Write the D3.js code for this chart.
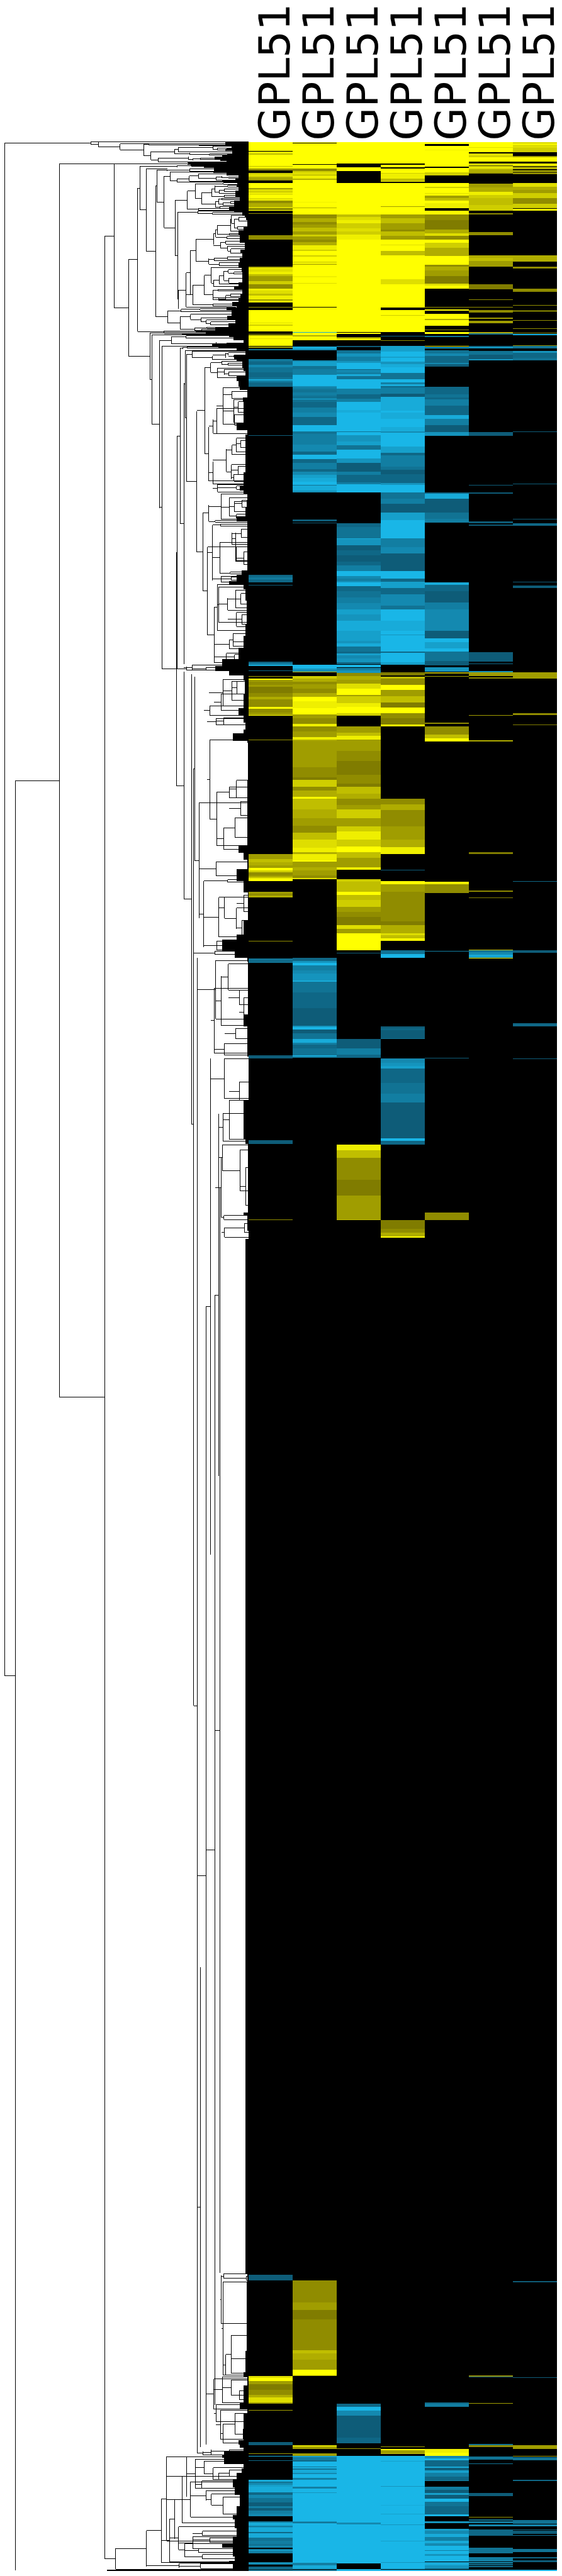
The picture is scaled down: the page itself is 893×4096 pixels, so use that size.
<!DOCTYPE html>
<html><head><meta charset="utf-8">
<script src="https://cdn.jsdelivr.net/npm/d3@7/dist/d3.min.js"></script>
<style>html,body{margin:0;padding:0;background:#fff}svg{display:block}</style></head>
<body><div id="chart"></div>
<script>
// ---------- data ----------
const columnLabels = ["GPL51","GPL51","GPL51","GPL51","GPL51","GPL51","GPL51"];
const TOTAL_ROWS = 11922, MAX_HEIGHT = 1221;
// reading sections: [row offset, row factor]
const S7=[0,1],S8=[1200,1],S9=[2400,1],S10=[3600,1],S4=[4704,1],S5=[10254,1.079],S11=[11304,1];
// each section: flat pairs of (row, level); level runs until the next row. +yellow, -blue, 0 none
const col1 = [
[S7,[0,9,45,0,48,6,52,8,56,5,62,9,118,5,121,9,132,2,136,3,139,0,153,6,160,7,170,4,180,3,189,0,203,9,228,3,234,7,245,4,249,9,255,5,258,9,276,7,282,8,288,2,300,4,318,6,330,0,333,8,339,0,350,2,354,0,459,2,480,0,612,4,618,8,625,7,637,8,650,5,660,3,684,6,700,2,720,8,730,7,745,5,755,8,773,3,780,8,789,0,810,3,813,0,825,9,887,7,890,9,896,6,902,9,930,0,942,4,945,0,948,9,963,7,968,9,1002,0,1005,4,1008,3,1012,0,1017,-3,1023,0,1065,-4,1071,-3,1080,-2,1095,-5,1105,-3,1130,-2,1155,-3,1165,-8,1172,-4,1182,-2,1200,0]],
[S8,[0,-2,3,0,240,-1,243,0,924,-2,935,-3,945,-5,948,-2,963,0,975,-1,978,0,1200,0]],
[S9,[150,-1,158,-4,165,-8,171,0,195,-2,198,0,222,3,225,0,233,9,240,3,250,2,265,3,275,1,305,2,325,4,335,2,372,9,382,2,400,3,412,9,417,0,534,2,537,0,1095,3,1120,5,1135,4,1150,3,1163,9,1175,6,1185,2,1200,0]],
[S10,[0,3,5,5,12,8,18,9,27,0,81,3,90,2,100,4,108,0,321,2,324,0,408,-3,416,-2,424,-3,429,0,882,-1,897,0]],
[S4,[195,-1,215,0,585,2,588,0]],
[S5,[197,-1,225,0,659,7,667,9,682,3,695,1,720,2,745,4,755,7,778,3,783,0,812,3,816,0,959,-1,973,0]],
[S11,[39,3,42,0,54,-9,57,0,75,-2,78,0,171,-8,180,-3,186,-5,196,-7,205,-8,230,-2,245,-5,260,-3,280,-1,300,-4,310,-1,320,-4,335,-5,348,0,372,-3,380,-8,395,-4,400,-6,405,-8,425,-2,432,-8,455,-3,470,-4,485,-3,495,-5,504,0,510,-4,515,-8,520,-4,530,0,573,-4,578,-6,582,-3,585,0,597,-2,607,-3,612,0,615,-9,618,0]]
];
const col2 = [
[S7,[0,9,6,0,9,9,111,0,114,9,132,2,144,6,150,7,162,4,165,8,182,4,186,9,295,8,299,9,324,4,327,9,357,2,375,4,395,2,405,3,420,5,440,3,455,6,465,3,480,2,492,4,507,8,528,6,537,9,558,6,564,9,588,6,592,8,600,3,604,9,660,8,666,9,693,7,696,9,810,0,813,9,933,-8,936,9,948,4,954,9,975,0,1005,-8,1017,-5,1023,0,1071,-5,1080,-7,1100,-3,1115,-4,1145,-9,1200,0]],
[S8,[0,-5,5,-4,15,-3,30,-4,45,-3,60,-8,65,-3,75,-2,105,-4,130,-5,150,-2,190,-9,222,-3,235,-4,285,-5,320,-2,335,-9,357,-2,375,-4,405,-2,420,-5,435,-7,450,-8,468,-9,483,-3,486,-8,510,-6,522,0,654,-1,663,0,669,-1,672,0]],
[S9,[165,-9,186,-6,195,-5,201,5,204,0,222,6,235,4,250,2,262,3,285,2,305,4,323,9,345,8,380,9,410,3,430,2,455,8,468,2,495,3,520,8,533,4,540,3,670,2,720,1,730,6,765,2,785,4,815,9,825,5,875,4,920,3,955,2,990,5,1025,7,1065,8,1085,4,1095,8,1125,9,1133,3,1160,4,1175,3,1200,0]],
[S10,[0,2,12,7,18,0,405,-2,420,-6,428,-9,441,-4,465,-5,483,-6,515,-8,522,-3,575,-2,650,-1,738,-6,744,-9,755,-1,775,-3,804,-8,820,-4,830,-2,850,-3,882,-8,888,-3,894,0]],
[S5,[225,2,325,3,358,1,400,2,540,5,555,4,585,3,630,9,655,3,658,0]],
[S11,[0,5,3,9,6,3,20,0,39,3,54,-7,60,-4,75,-2,80,-9,105,-3,108,-9,114,-3,120,-8,135,-5,141,-9,160,-4,170,-9,204,-4,212,-9,232,-6,235,-9,372,-5,380,-1,384,-9,576,-4,590,-8,608,0,612,-3,618,0]]
];
const col3 = [
[S7,[0,9,105,0,126,9,144,0,201,9,357,5,370,7,385,8,400,6,425,7,440,6,455,8,480,9,933,0,936,9,942,0,957,3,963,8,975,0,1002,-1,1008,0,1023,-3,1040,-6,1055,-4,1075,-6,1085,-9,1115,-2,1118,-5,1130,-4,1140,-8,1150,-3,1165,-9,1200,0]],
[S8,[0,-9,10,-4,40,-2,60,-4,75,-9,115,-8,130,-9,222,-3,225,-9,240,-6,270,-7,290,-3,310,-9,355,-6,375,-1,420,-4,435,-2,470,-4,480,-9,522,0,672,-2,690,-3,745,-8,750,-6,780,-1,805,-2,830,-1,860,-2,880,-4,905,-9,930,-5,945,-4,957,-6,963,-9,980,-2,1005,-3,1035,-4,1065,-5,1095,-7,1120,-6,1150,-8,1200,0]],
[S9,[0,-7,50,-6,60,-8,78,-3,100,-2,110,-7,120,-5,135,-6,155,-2,162,0,165,-9,180,0,183,-4,195,-6,207,2,222,4,240,3,260,7,285,9,315,3,322,6,355,8,372,9,405,6,417,0,468,3,500,5,515,8,535,3,590,2,640,1,705,2,750,1,765,5,800,4,825,2,855,3,875,6,920,3,960,6,985,8,1025,6,1058,9,1085,5,1115,3,1160,8,1172,0]],
[S10,[18,6,30,5,80,9,95,5,120,6,155,3,178,2,205,1,243,7,262,3,285,9,369,0,381,-1,384,0,804,-1,850,-4,880,-2,894,0]],
[S4,[216,8,245,5,282,2,390,1,468,3,585,5,588,0]],
[S5,[785,-2,800,-9,815,-5,840,-1,940,-2,965,0]],
[S11,[15,3,18,0,54,-9,381,-5,390,-9,579,0,609,-9,618,0]]
];
const col4 = [
[S7,[0,9,3,0,6,9,105,0,114,9,126,0,132,9,153,6,156,8,180,5,192,8,195,0,201,9,315,3,318,9,357,3,375,5,400,3,430,2,440,5,460,3,480,9,505,7,508,9,537,5,558,9,675,7,700,9,813,0,825,9,850,6,853,9,933,0,951,-2,954,0,975,2,978,0,1002,-7,1030,-9,1055,-7,1060,-9,1080,-6,1090,-8,1105,-9,1135,-3,1165,-9,1180,-4,1190,-8,1200,0]],
[S8,[0,-2,5,-4,35,-1,50,-8,120,-9,130,-8,160,-9,200,-8,220,-5,228,-9,295,-7,325,-2,340,-4,395,-3,410,-1,430,-2,475,-6,483,-9,522,-3,550,-4,575,-1,620,-7,655,-2,657,-9,745,-4,790,-5,820,-1,905,-9,945,-2,960,-7,990,-2,1020,-5,1075,-3,1095,-9,1150,-8,1200,0]],
[S9,[0,-9,18,-6,22,-9,100,-2,108,-9,155,-7,165,0,204,1,220,0,225,5,235,2,265,9,290,3,320,5,350,1,375,9,405,2,430,1,460,9,468,0,825,2,850,4,880,2,960,3,1025,4,1060,8,1095,0,1173,-1,1176,0]],
[S10,[27,9,45,3,80,2,225,1,245,4,285,7,295,5,310,9,321,0,369,-3,385,-9,405,0,741,-1,750,-2,760,-1,800,-3,804,0,897,-5,920,-6,935,-7,948,-2,1020,-3,1070,-4,1115,-1,1200,0]],
[S4,[96,-1,185,-9,200,-2,218,0,588,1,630,2,648,4,668,9,675,0]],
[S11,[6,3,9,0,18,9,24,3,39,5,42,0,54,-9,78,-7,81,-9,200,-6,204,-9,294,-8,297,-9,336,-7,339,-9,390,-6,393,-9,468,-7,471,-9,573,-6,576,-9,609,0,612,-9,618,0]]
];
const col5 = [
[S7,[0,9,12,0,21,9,38,8,42,9,105,0,108,9,122,0,129,9,150,6,165,0,201,9,222,6,228,9,252,7,256,9,265,3,275,5,288,9,300,8,327,0,339,9,357,2,385,1,430,4,450,7,462,2,480,9,495,6,520,4,560,9,604,2,612,4,630,3,660,1,695,7,705,9,720,0,810,2,813,0,822,9,828,0,843,9,870,4,876,9,903,0,921,2,924,0,933,9,942,0,951,-3,957,0,1002,9,1005,0,1008,-8,1014,0,1023,-3,1040,-5,1050,-2,1085,-5,1090,-1,1104,0]],
[S8,[3,-2,40,-3,55,-2,65,-4,95,-2,140,-8,160,-4,190,-1,225,-6,243,0,522,-2,528,-8,550,-1,620,-3,650,-4,670,0,963,-8,975,-2,1005,-1,1060,-4,1095,-5,1200,0]],
[S9,[0,-1,36,-9,55,-7,85,-9,100,-3,148,-1,170,0,180,-6,200,0,204,4,210,0,222,3,225,0,450,2,458,0,468,2,510,5,528,9,543,0]],
[S10,[30,8,45,2,87,0,372,-4,375,0,894,-1,897,0]],
[S4,[552,2,588,0]],
[S5,[778,-2,783,-4,800,0]],
[S11,[18,8,36,9,54,-5,65,-9,75,-2,105,-8,110,-1,125,-7,135,-4,155,-2,172,-4,176,0,204,-4,220,-1,235,-7,245,-1,262,-9,278,-3,300,-2,340,-9,348,0,372,-6,384,0,411,-7,420,-5,435,-8,450,-4,470,-8,480,-5,495,-9,515,-4,518,-9,535,-6,543,-9,570,0,573,-8,590,-6,605,-3,609,0,612,-9,618,0]]
];
const col6 = [
[S7,[0,9,25,7,30,9,52,0,56,7,70,6,75,9,96,0,108,8,112,3,122,9,126,7,135,4,150,3,156,0,204,3,225,4,245,8,262,6,275,5,310,6,339,0,350,2,357,0,444,2,459,0,558,4,570,5,585,3,612,0,699,1,723,0,774,2,777,0,810,2,813,0,825,2,837,0,864,3,870,0,879,3,891,0,933,4,939,-3,945,0,1002,-2,1008,-8,1011,-5,1014,0,1026,-3,1045,-1,1065,-6,1071,0]],
[S8,[225,-1,243,0,483,-1,486,0,522,-1,528,0,663,-1,672,0,678,-1,684,0]],
[S9,[105,-1,150,0,159,-2,162,0,198,-6,204,3,222,0,228,2,234,0,414,3,417,0,537,4,543,0,1086,1,1095,0]],
[S10,[75,2,81,0,108,1,111,0,366,5,369,-3,378,-5,390,-8,400,-2,405,9,408,0]],
[S5,[656,2,660,-2,664,0,782,3,785,0,967,-3,975,0]],
[S11,[0,2,9,0,57,-3,72,0,90,-3,93,0,234,-1,249,0,351,2,354,0,363,-3,369,0,375,-4,384,0,390,-5,399,0,414,-2,444,0,504,-3,531,0,549,-4,570,0,573,-6,580,0,582,-3,588,0,594,-3,600,0,612,-9,618,0]]
];
const col7 = [
[S7,[0,8,6,5,9,9,13,0,15,7,30,6,50,0,69,3,75,9,96,0,108,9,120,0,123,3,130,7,135,0,140,6,146,0,150,2,159,0,201,7,220,4,235,3,250,6,275,2,305,6,325,0,328,9,339,0,558,4,588,0,612,2,621,0,720,2,735,0,801,2,804,0,828,9,831,0,876,2,879,0,915,2,918,0,936,2,939,0,942,-9,948,0,999,2,1002,-3,1014,0,1026,-6,1035,-2,1060,-3,1071,0]],
[S8,[222,-1,225,0,477,-1,480,0,651,-1,654,0,672,-2,684,0,960,-1,963,0,978,-1,990,0]],
[S9,[204,3,234,0,405,2,414,0,459,1,462,0]],
[S10,[27,-2,30,0,369,-1,381,0,726,-2,741,0,897,-1,900,0]],
[S5,[226,-1,232,0,664,-1,668,0]],
[S11,[0,3,18,0,51,3,54,0,60,-3,75,0,171,-2,177,0,366,-3,387,0,390,-5,399,0,414,-2,417,0,420,-1,435,0,441,-3,444,0,510,-3,525,0,549,-2,555,0,564,-1,573,0,612,-9,618,0]]
];
const columns = [col1,col2,col3,col4,col5,col6,col7];

// tree readings. Merge = [node height, top row, bottom row, parent height, optional joining row]
const mainMerges = [
[1199,7,7527,1199],[776,1,13,1199],[1146,3135,11919,1199],[930,108,6162,1146],[674,106,110,930],
[708,462,11862,930],[662,111,813,708],[654,11811,11913,708],[590,580,1051,662],[545,226,931,590],
[485,937,1165,590],[416,934,940,485],[475,946,1386,485],[326,944,948,475],[437,975,1797,475],
[380,958,991,437],[425,1002,2587,437],[180,1003,1003,425],[356,2013,3159,425],[352,1443,2585,356],
[319,2601,3717,356],[335,1011,1875,352],[319,1185,2562,335],[313,1024,1353,319],[306,1041,1666,313],
[256,1322,2013,306],[217,1107,1531,256],[197,1400,1664,217],[175,1362,1431,197],[226,1823,2203,256],
[280,2612,4822,319],[271,3076,7675,280,4822],[266,2625,3527,271],[245,3243,3811,266]
];
const fineMerges = [ // finer reading, rows offset 96, heights counted from the left edge
[484,97,121,445],[589,106,136,484],[706,107,166,589],[730,105,111,706],[740,145,184,706],[856,133,155,740],[874,124,145,856],[1045,118,132,874],[1066,128,136,1045],[931,150,160,856],[1027,156,162,931],[778,175,196,740],[925,170,184,778],[946,178,188,925],[982,175,182,946],[922,194,198,778],[976,110,114,730],
[922,203,208,547],[688,216,430,676],[868,213,220,688],[938,210,216,868],[718,226,634,688],[820,226,229,718],[763,313,955,718],[769,235,391,763],[820,233,238,769],[930,230,240,820],[805,265,517,769],[835,245,286,805],[1048,243,247,835],[868,277,295,835],[928,265,290,868],[973,254,274,928],[1060,268,283,973],[1088,264,272,1060],[1120,270,275,1088],[1155,290,290,928],[1090,295,295,868],
[859,382,655,805],[919,337,427,859],[958,301,373,919],[1096,298,305,958],[989,343,403,958],[1039,325,365,989],[1054,310,343,1039],[1117,310,318,1054],[1075,333,350,1054],[1100,328,340,1075],[1102,358,368,1039],[1057,388,418,989],[1072,376,403,1057],[1087,373,380,1072],[1094,395,408,1072],[1130,390,398,1094],[1078,415,422,1057],[973,424,431,919],
[871,441,869,859],[970,437,446,871],[1042,443,451,970],[874,823,915,871],[913,739,907,874],[934,628,847,913],[961,574,685,934],[1048,547,601,961],[1058,527,565,1048],[1066,505,550,1058],[1132,475,535,1066],[1135,457,495,1132],[1150,475,517,1135],[1172,465,485,1150],[1165,512,525,1150],[1126,546,553,1066],[1114,560,572,1058],[1081,589,619,1048],[1108,583,598,1081],[1117,607,630,1081],[1132,622,643,1117],[1024,669,697,961],[1051,667,678,1024],[1075,690,703,1024],[1115,660,672,1051],
[946,799,895,913],[1003,751,847,946],[1036,712,790,1003],[1048,775,805,1036],[1075,755,793,1048],[1099,730,778,1075],[1120,724,740,1099],[1147,735,745,1120],[1123,765,790,1099],[1045,823,872,1003],[1069,820,826,1045],[1108,850,870,1045],[1072,860,875,1108],[1130,842,856,1108],[1045,892,901,946],[1158,907,907,913],
[823,925,985,763],[889,920,930,823],[981,915,922,889],[883,955,1015,823],[934,943,967,883],[985,960,978,934],[1012,970,988,985],[1033,980,995,1012],[955,1008,1021,883],[1015,1005,1012,955],[988,1017,1024,955],
[805,1025,1030,676],[913,1047,1060,841],[1060,1080,1095,841],[1112,1083,1090,1060],[898,1104,1112,886],[918,1102,1108,898],[943,1124,1156,913],[1042,1147,1165,943],[1108,1130,1155,1042],[1120,1130,1145,1108],[1147,1143,1152,1120],[1033,1180,1228,1003],[1088,1172,1186,1033],[1118,1183,1192,1088],[1066,1208,1252,1033],[1100,1213,1240,1066],[1122,1225,1245,1100]
];
// coarse readings: section offsets, then merges in the wide scale
const coarseSections = [
[1104,1.148,[[605,178,285,595],[622,90,245,605],[647,105,135,622],[653,140,240,622],[665,150,195,653],[655,205,250,653],[632,352,448,594],[594,405,500,582],[648,335,375,632],[660,305,365,648],[672,315,345,660],[646,418,480,632],[665,425,460,646],[653,460,490,646],[607,503,535,594],[660,510,525,607],[618,543,652,583],[641,560,640,618],[655,575,620,641],[675,570,600,655],[660,630,648,641],[583,590,660,566],[600,658,664,583],[593,677,913,579],[615,673,680,593],[613,750,882,593],[657,710,832,613],[648,710,760,657],[673,695,730,648],[660,770,830,657],[680,790,845,660],[642,878,885,613],[617,895,920,593],[645,900,912,617],[579,770,1147,566],[598,1028,1265,579],[606,930,1127,598],[610,942,1092,606],[635,990,1040,610],[657,955,1030,635],[672,970,1015,657],[660,1050,1110,635],[675,1060,1100,660],[640,1170,1205,598],[650,1140,1195,640],[680,1160,1190,650],[632,1225,1255,598],[655,1230,1250,632],[537,1275,1298,513],[575,1285,1298,537],[613,1280,1290,575],[521,1282,1298,494],[622,1337,1450,583],[647,1345,1425,622],[661,1345,1400,647],[617,1400,1470,597],[585,1450,1490,569],[603,1505,1530,577],[625,1500,1530,603]]],
[2904,1.148,[[586,27,367,577],[605,252,480,586],[640,228,275,605],[625,403,495,605],[656,360,445,625],[672,290,350,640],[660,200,275,640],[603,548,607,555],[569,630,913,555],[635,625,635,569],[611,700,870,569],[627,700,790,611],[660,745,835,627],[680,690,760,660],[675,800,860,660],[605,887,925,569],[655,895,915,605],[600,930,945,541],[550,960,7352,541],[602,970,1220,550],[637,985,1097,617],[617,1037,1248,602],[668,1097,1160,637],[680,1130,1250,668],[627,1325,1375,598],[658,1260,1305,627],[598,1090,1365,588],[627,1390,1560,588],[668,1490,1568,640]]],
[4704,1,[[640,0,190,622],[622,65,200,610],[610,65,1845,600],[620,218,345,610],[670,245,445,620],[685,330,515,670],[618,280,575,600],[625,565,585,618],[627,625,672,618],[682,605,648,627],[614,430,5755,600],[600,955,6402,576],[576,1012,6597,550],[588,-207,2231,576]]],
[10254,1.079,[[625,193,215,618],[688,205,225,625],[623,230,655,618],[618,200,420,614],[645,474,645,630],[630,560,655,623],[690,550,610,645],[620,662,780,597],[645,677,745,620],[668,725,765,645],[690,720,770,668],[597,672,810,576],[603,790,865,597],[615,815,945,603],[622,877,962,615],[656,830,925,622],[678,900,945,656],[686,880,920,678],[560,-1200,983,550],[567,1002,1018,550],[590,992,1018,567],[640,995,1005,590],
[409,1363,1525,323],[450,1216,1508,409],[465,1025,1408,450],[520,1025,1207,465],[545,1037,1170,520],[570,1045,1105,545],[595,1075,1130,570],[610,1100,1130,595],[640,1085,1115,610],[508,1115,1327,465],[563,1135,1170,545],[575,1180,1225,532],[532,1140,1300,487],[590,1195,1245,575],[622,1210,1285,590],[487,1220,1400,473],[473,1310,1503,450],[498,1345,1447,473],[538,1390,1445,498],[565,1365,1385,538],[585,1395,1415,538],[515,1420,1480,498],[555,1445,1462,515],[565,1470,1490,515],[500,1510,1530,409],[560,1512,1535,500],[300,1540,1545,323]]]
];

// outer boundary of the densely packed leaves
const edgeFine = [96,484,99,1105,116,1105,126,1137,130,1110,140,1105,152,1140,160,1115,170,1090,180,1052,190,1080,196,1110,203,922,208,1008,218,940,224,1000,240,1050,245,1105,262,1110,274,1170,285,1155,295,1090,310,1165,320,1160,335,1170,350,1155,365,1155,385,1175,400,1150,415,1150,430,1125,440,1148,455,1190,465,1200,480,1208,510,1212,530,1195,550,1170,565,1175,590,1175,625,1200,640,1180,665,1190,690,1175,715,1170,735,1185,760,1190,785,1190,805,1170,820,1150,840,1188,860,1180,880,1170,900,1140,910,1160,925,1110,950,1135,970,1115,985,1155,1005,1120,1020,1055,1033,960,1045,1010,1055,1125,1070,1145,1085,1195,1100,1040,1110,1070,1125,1160,1143,1205,1165,1150,1175,1160,1190,1190,1205,1190,1222,1195,1245,1205];
const edgeCoarse = [
[1104,1.148,[60,660,85,665,100,670,130,690,150,678,200,680,240,680,270,660,290,690,320,685,350,685,400,685,450,685,490,680,510,680,530,670,545,680,570,690,600,688,640,685,660,660,680,690,720,690,780,690,830,690,870,690,890,675,915,660,930,640,950,680,1000,685,1050,688,1100,688,1150,685,1200,680,1250,665,1280,620,1300,600,1320,640,1340,680,1400,683,1460,680,1490,665,1520,680,1550,685]],
[2904,1.148,[0,680,30,650,40,690,100,692,200,692,300,690,400,690,480,690,510,665,540,680,580,690,630,660,680,680,710,692,800,692,860,680,880,660,930,620,960,655,975,690,1050,692,1200,692,1250,680,1290,690,1380,690,1395,693]],
[4704,1,[0,693,190,680,215,685,230,692,550,692,565,680,590,690,640,690,680,694]],
[10254,1.079,[193,685,230,690,545,688,640,685,660,680,700,690,780,680,810,670,830,690,950,680,970,665,985,670,1000,680,1020,625,1030,620,1060,625,1080,680,1100,675,1130,660,1165,650,1200,655,1250,670,1290,660,1310,650,1350,655,1390,660,1420,650,1440,620,1480,650,1500,655,1515,640,1535,650,1545,694]]
];

// ---------- scales ----------
const W=893,H=4096,sx=W/919,sy=H/4214;
const rowY = d3.scaleLinear().domain([0,TOTAL_ROWS]).range([232*sy,4206*sy]);
const heightX = d3.scaleLinear().domain([0,MAX_HEIGHT]).range([407*sx,0]);
const colX = d3.scaleLinear().domain([0,7]).range([407*sx,911*sx]);
const yellow = d3.scaleLinear().domain([1,9]).range(["#807c00","#ffff00"]);
const blue = d3.scaleLinear().domain([1,9]).range(["#0e5c78","#19b6e7"]);
const levelColor = v => v>0 ? yellow(v) : blue(-v);
const fineH = d3.scaleLinear().domain([0,MAX_HEIGHT]).range([MAX_HEIGHT,0]);
const coarseH = d3.scaleLinear().domain([0,1568]).range([MAX_HEIGHT,MAX_HEIGHT-1568*1.7578]);

// ---------- assemble ----------
const bands=[];
columns.forEach((sections,ci)=>{
  sections.forEach(([sec,vals])=>{
    for(let i=0;i+2<vals.length;i+=2){
      if(vals[i+1]===0) continue;
      bands.push({c:ci,r0:sec[0]+vals[i]*sec[1],r1:sec[0]+vals[i+2]*sec[1],v:vals[i+1]});
    }
  });
});
const merges=[];
const addMerge=(h,u1,u2,p,j)=>merges.push({h,u1,u2,p,j:j===undefined?(u1+u2)/2:j});
mainMerges.forEach(m=>addMerge(m[0],m[1],m[2],m[3],m[4]));
fineMerges.forEach(m=>addMerge(fineH(m[0]),m[1]-96,m[2]-96,fineH(m[3])));
coarseSections.forEach(([b,f,list])=>list.forEach(m=>addMerge(coarseH(m[0]),b+m[1]*f,b+m[2]*f,coarseH(m[3]))));
const edge=[];
for(let i=0;i<edgeFine.length;i+=2) edge.push({u:edgeFine[i]-96,h:fineH(edgeFine[i+1])});
edgeCoarse.forEach(([b,f,v])=>{for(let i=0;i<v.length;i+=2) edge.push({u:b+v[i]*f,h:coarseH(v[i+1])});});
edge.sort((a,b)=>a.u-b.u);
edge.push({u:TOTAL_ROWS,h:0});

// ---------- draw ----------
const svg=d3.select("#chart").append("svg").attr("width",W).attr("height",H).attr("viewBox",[0,0,W,H]);
svg.append("rect").attr("x",colX(0)).attr("y",rowY(0)).attr("width",colX(7)-colX(0)).attr("height",rowY(TOTAL_ROWS)-rowY(0)).attr("fill","#000").attr("shape-rendering","crispEdges");
svg.append("g").attr("shape-rendering","crispEdges").selectAll("rect").data(bands).join("rect")
  .attr("x",d=>colX(d.c)).attr("width",colX(1)-colX(0))
  .attr("y",d=>rowY(d.r0)).attr("height",d=>Math.max(1,rowY(d.r1)-rowY(d.r0)))
  .attr("fill",d=>levelColor(d.v));

const area=d3.area().curve(d3.curveStepAfter).y(d=>rowY(d.u)).x0(d=>heightX(d.h)).x1(heightX(0));
svg.append("path").datum(edge).attr("d",area).attr("fill","#000").attr("shape-rendering","crispEdges");

// short clusters run on into the leaf block when no child merge meets them
const hasChild=(u,h)=>merges.some(o=>o.h<h-1 && Math.abs(o.p-h)<26 && Math.abs(o.j-u)<10);
const seg=[];
merges.forEach(m=>{
  seg.push({x1:heightX(m.p),x2:heightX(m.h),y1:rowY(m.j),y2:rowY(m.j)});
  if(m.u1!==m.u2){
    seg.push({x1:heightX(m.h),x2:heightX(m.h),y1:rowY(m.u1),y2:rowY(m.u2)});
    if(m.u2-m.u1<600) [m.u1,m.u2].forEach(u=>{ if(!hasChild(u,m.h)) seg.push({x1:heightX(m.h),x2:heightX(0),y1:rowY(u),y2:rowY(u)}); });
  }
});
svg.append("g").attr("stroke","#000").attr("stroke-width",1).attr("shape-rendering","crispEdges")
  .selectAll("line").data(seg).join("line")
  .attr("x1",d=>d.x1).attr("x2",d=>d.x2).attr("y1",d=>d.y1).attr("y2",d=>d.y2);

svg.append("g").selectAll("text").data(columnLabels).join("text")
  .attr("transform",(d,i)=>`translate(${colX(i+1)-5.2*sx},${230*sy}) rotate(-90)`)
  .attr("font-family","DejaVu Sans").attr("font-size",70*sx).attr("fill","#000").text(d=>d);
</script></body></html>
